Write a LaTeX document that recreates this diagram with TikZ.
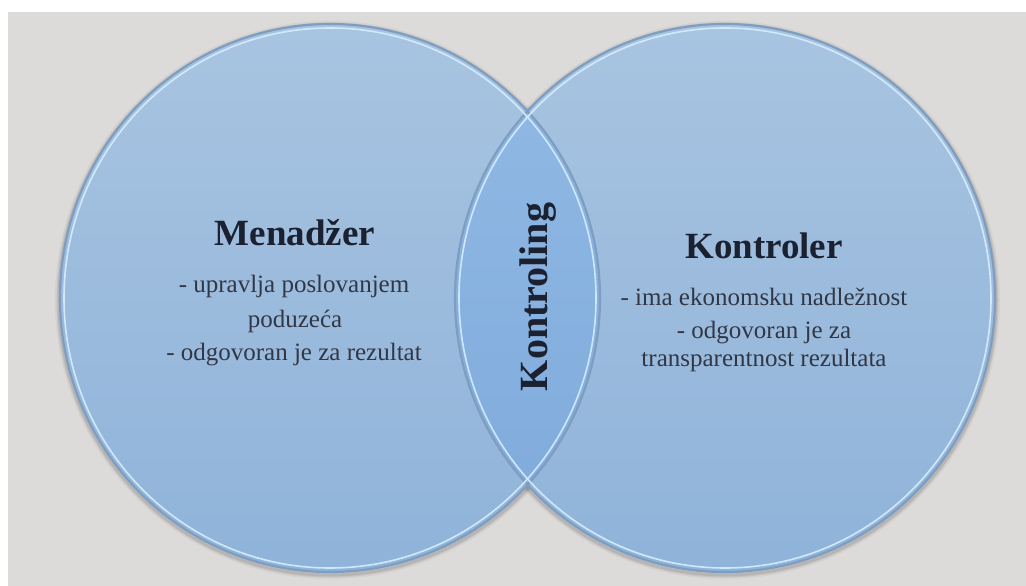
\documentclass[tikz,border=0pt]{standalone}
\usepackage{fontspec}
\setmainfont{Liberation Serif}
\definecolor{bgray}{HTML}{DCDBDA}
\definecolor{ctop}{HTML}{A8C4E1}
\definecolor{cbot}{HTML}{8FB3D9}
\definecolor{ltop}{HTML}{92BAE5}
\definecolor{lbot}{HTML}{7DA9DA}
\definecolor{rimdark}{HTML}{7F9DC0}
\definecolor{rimlight}{HTML}{D6EEFF}
\definecolor{ink}{HTML}{1B2130}
\tikzset{
  head/.style={font=\fontsize{37}{40}\selectfont\bfseries, text=ink, inner sep=0pt, anchor=base},
  body/.style={font=\fontsize{25}{28}\selectfont, text=ink!90, inner sep=0pt, anchor=base},
  ring/.style={draw=rimdark, line width=2.2pt},
  glow/.style={draw=rimlight, line width=1.6pt, opacity=0.9}
}
\begin{document}
\begin{tikzpicture}[x=1pt,y=-1pt]
\useasboundingbox (0,0) rectangle (1026,586);
\fill[white] (0,0) rectangle (1026,586);
\fill[bgray] (8,12) rectangle (1026,586);
% soft shadows
\foreach \w/\o in {8/0.04,5/0.06,3/0.08}{
  \draw[black, line width=\w pt, opacity=\o] (330,300) ellipse [x radius=271pt, y radius=275pt];
  \draw[black, line width=\w pt, opacity=\o] (725,300) ellipse [x radius=271pt, y radius=275pt];
}
% circle fills
\shade[top color=ctop, bottom color=cbot] (330,298) ellipse [x radius=270pt, y radius=274pt];
\shade[top color=ctop, bottom color=cbot] (725,298) ellipse [x radius=270pt, y radius=274pt];
% lens
\begin{scope}
  \clip (330,298) ellipse [x radius=270pt, y radius=274pt];
  \shade[top color=ltop, bottom color=lbot] (725,298) ellipse [x radius=270pt, y radius=274pt];
\end{scope}
% rims
\draw[ring] (330,298) ellipse [x radius=270pt, y radius=274pt];
\draw[ring] (725,298) ellipse [x radius=270pt, y radius=274pt];
\draw[glow] (330,298) ellipse [x radius=266pt, y radius=270pt];
\draw[glow] (725,298) ellipse [x radius=266pt, y radius=270pt];
% texts
\node[head] (men) at (295,245) {Menadžer};
\node[body] (m1) at (294,292) {- upravlja poslovanjem};
\node[body] (m2) at (295,327) {poduzeća};
\node[body] (m3) at (294,360) {- odgovoran je za rezultat};
\node[head] (kon) at (764,258) {Kontroler};
\node[body] (k1) at (764,305) {- ima ekonomsku nadležnost};
\node[body] (k2) at (764,338) {- odgovoran je za};
\node[body] (k3) at (764,366) {transparentnost rezultata};
\node[head, font=\fontsize{40}{44}\selectfont\bfseries, rotate=90] (ktr) at (547,297) {Kontroling};
\end{tikzpicture}
\end{document}
